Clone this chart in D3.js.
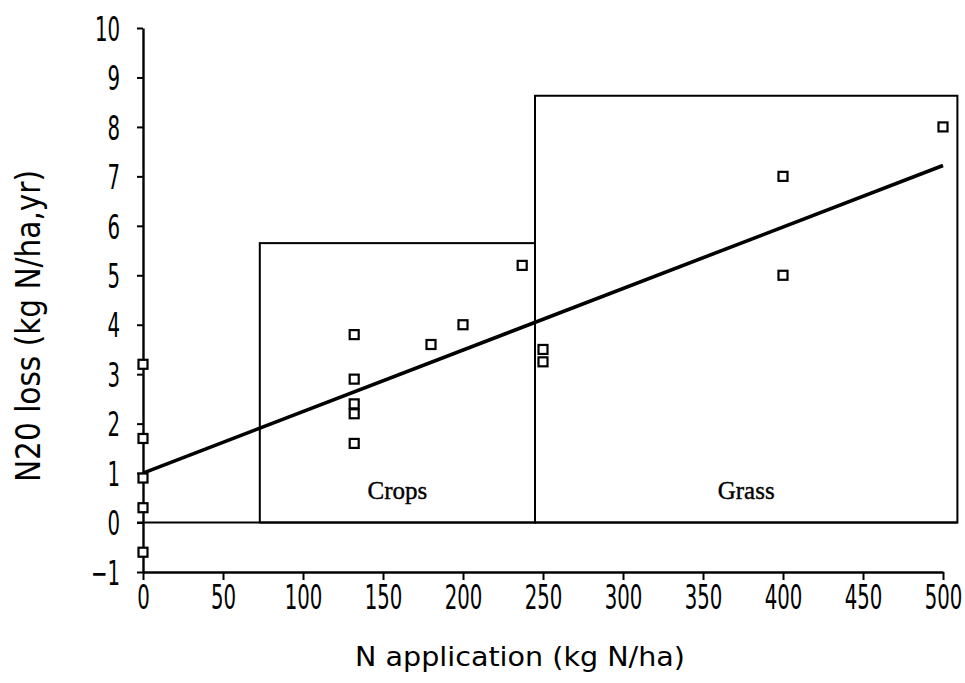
<!DOCTYPE html>
<html>
<head>
<meta charset="utf-8">
<script src="https://cdn.jsdelivr.net/npm/d3@7"></script>
<style>
  html, body { margin: 0; padding: 0; background: #fff; }
  svg { display: block; }
</style>
</head>
<body>
<svg id="chart" width="965" height="683"></svg>
<script>
// ---- data ----
const nApplication = [0, 0, 0, 0, 0, 132, 132, 132, 132, 132, 180, 200, 237, 250, 250, 400, 400, 500];
const n2oLoss      = [3.2, 1.7, 0.9, 0.3, -0.6, 3.8, 2.9, 2.4, 2.2, 1.6, 3.6, 4.0, 5.2, 3.5, 3.25, 7.0, 5.0, 8.0];
const fitX = [0, 500];
const fitY = [1.0, 7.22];
const boxLabels = ["Crops", "Grass"];
const boxX0 = [73, 245];
const boxX1 = [245, 509];
const boxTop = [5.65, 8.63];
const xTicks = [0, 50, 100, 150, 200, 250, 300, 350, 400, 450, 500];
const yTicks = [-1, 0, 1, 2, 3, 4, 5, 6, 7, 8, 9, 10];
const xTitle = "N application (kg N/ha)";
const yTitle = "N20 loss (kg N/ha,yr)";

const svg = d3.select("#chart");
const x = d3.scaleLinear().domain([0, 500]).range([143, 943]);
const y = d3.scaleLinear().domain([-1, 10]).range([572, 28]);
const FONT = "DejaVu Sans, sans-serif";

// boxes
boxLabels.forEach((lab, i) => {
  svg.append("rect")
    .attr("x", x(boxX0[i])).attr("y", y(boxTop[i]))
    .attr("width", x(boxX1[i]) - x(boxX0[i]))
    .attr("height", y(0) - y(boxTop[i]))
    .attr("fill", "none").attr("stroke", "#000").attr("stroke-width", 2);
  svg.append("text")
    .attr("x", (x(boxX0[i]) + x(boxX1[i])) / 2).attr("y", 499)
    .attr("text-anchor", "middle")
    .attr("font-family", "Liberation Serif, Times New Roman, serif")
    .attr("font-size", 25).attr("fill", "#000")
    .attr("stroke", "#000").attr("stroke-width", 0.4)
    .text(lab);
});

// zero line
svg.append("line")
  .attr("x1", x(0) - 6).attr("x2", x(boxX1[1]))
  .attr("y1", y(0)).attr("y2", y(0))
  .attr("stroke", "#000").attr("stroke-width", 2);

// axes
const yAxis = svg.append("g")
  .attr("transform", `translate(${x(0)},0)`)
  .call(d3.axisLeft(y).tickValues(yTicks).tickSize(6).tickSizeOuter(0).tickFormat(d3.format("d")));
const xAxis = svg.append("g")
  .attr("transform", `translate(0,${y(-1)})`)
  .call(d3.axisBottom(x).tickValues(xTicks).tickSize(8).tickSizeOuter(0).tickFormat(d3.format("d")));

[yAxis, xAxis].forEach(g => {
  g.select(".domain").attr("stroke", "#000").attr("stroke-width", 2.4);
  g.selectAll(".tick line").attr("stroke", "#000").attr("stroke-width", 2);
  g.selectAll(".tick text")
    .attr("font-family", FONT).attr("font-size", 34).attr("fill", "#000");
});
yAxis.selectAll(".tick text")
  .attr("x", 0).attr("dy", "0.36em")
  .attr("transform", "translate(-23,0) scale(0.58,1)");
xAxis.selectAll(".tick text")
  .attr("y", 0).attr("dy", 0)
  .attr("transform", "translate(0,37) scale(0.58,1)");

// regression line
svg.append("path")
  .datum(fitX.map((v, i) => [v, fitY[i]]))
  .attr("d", d3.line().x(d => x(d[0])).y(d => y(d[1])))
  .attr("fill", "none").attr("stroke", "#000").attr("stroke-width", 3.6);

// points
svg.append("g").selectAll("rect")
  .data(nApplication.map((v, i) => [v, n2oLoss[i]]))
  .join("rect")
  .attr("x", d => x(d[0]) - 4.5).attr("y", d => y(d[1]) - 4.5)
  .attr("width", 9).attr("height", 9)
  .attr("fill", "#fff").attr("stroke", "#000").attr("stroke-width", 2.2);

// titles
svg.append("text")
  .attr("x", 520).attr("y", 666)
  .attr("text-anchor", "middle")
  .attr("font-family", FONT).attr("font-size", 26).attr("fill", "#000")
  .attr("textLength", 330).attr("lengthAdjust", "spacingAndGlyphs")
  .text(xTitle);
svg.append("text")
  .attr("transform", "translate(40,326) rotate(-90)")
  .attr("text-anchor", "middle")
  .attr("font-family", FONT).attr("font-size", 34).attr("fill", "#000")
  .attr("textLength", 312).attr("lengthAdjust", "spacingAndGlyphs")
  .text(yTitle);
</script>
</body>
</html>
